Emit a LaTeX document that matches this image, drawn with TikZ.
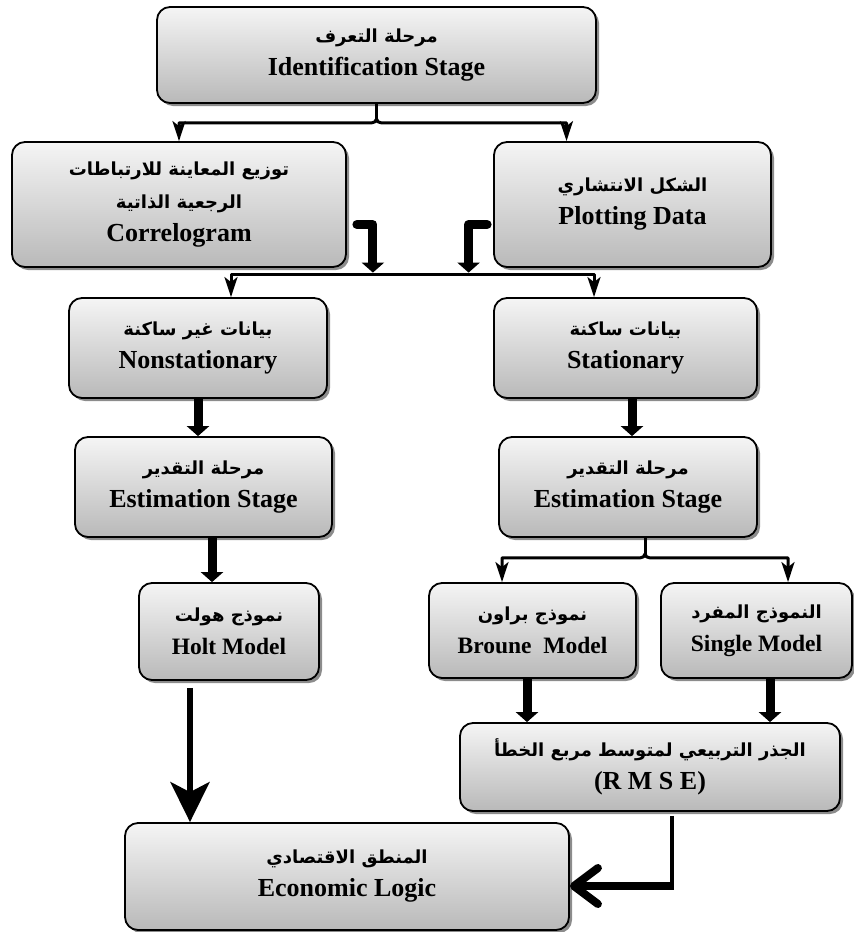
\documentclass[tikz,border=0pt]{standalone}
\usepackage{fontspec}
\setmainfont{Liberation Serif}
\newfontfamily\arabicfont[Script=Arabic]{DejaVu Sans}
\TeXXeTstate=1
\usetikzlibrary{arrows.meta,shadows}
\newcommand{\artxt}[1]{{\arabicfont\fontsize{18}{33}\selectfont\beginR #1\endR}}
\begin{document}
\begin{tikzpicture}[x=1pt,y=-1pt,line join=round,>={Stealth[length=20pt,width=13pt,inset=5pt]},
  box/.style={draw,line width=1.8pt,rounded corners=13pt,top color=gray!8,bottom color=gray!55,
    drop shadow={shadow xshift=3pt,shadow yshift=-3pt,fill=gray!90,opacity=1},
    align=center,inner sep=2pt,font=\fontsize{26}{33}\selectfont\bfseries},
  modelbox/.style={box,font=\fontsize{23.5}{33}\selectfont\bfseries},
  link/.style={line width=3pt},
  fat/.style={line width=9pt,-{Triangle[length=10pt,width=22pt]}}]
\useasboundingbox (0,0) rectangle (854,932);
\node[box,minimum width=439pt,minimum height=96pt] (ident) at (376.5,55) {\artxt{مرحلة التعرف}\\Identification Stage};
\node[box,minimum width=334pt,minimum height=125pt] (correl) at (179,204.5) {\artxt{توزيع المعاينة للارتباطات}\\\artxt{الرجعية الذاتية}\\Correlogram};
\node[box,minimum width=277pt,minimum height=125pt] (plot) at (632.5,204.5) {\artxt{الشكل الانتشاري}\\Plotting Data};
\node[box,minimum width=258pt,minimum height=100pt] (nonst) at (198,348) {\artxt{بيانات غير ساكنة}\\Nonstationary};
\node[box,minimum width=263pt,minimum height=100pt] (stat) at (625.5,348) {\artxt{بيانات ساكنة}\\Stationary};
\node[box,minimum width=257pt,minimum height=100pt] (estL) at (203.5,487) {\artxt{مرحلة التقدير}\\Estimation Stage};
\node[box,minimum width=258pt,minimum height=100pt] (estR) at (628,487) {\artxt{مرحلة التقدير}\\Estimation Stage};
\node[modelbox,minimum width=180pt,minimum height=97pt] (holt) at (229,631.5) {\artxt{نموذج هولت}\\Holt Model};
\node[modelbox,minimum width=207pt,minimum height=95pt] (broune) at (532.5,630.5) {\artxt{نموذج براون}\\Broune~~Model};
\node[modelbox,minimum width=191pt,minimum height=95pt] (single) at (756.5,630.5) {\artxt{النموذج المفرد}\\Single Model};
\node[box,minimum width=380pt,minimum height=88pt] (rmse) at (650,767) {\artxt{الجذر التربيعي لمتوسط مربع الخطأ}\\(R M S E)};
\node[box,minimum width=444pt,minimum height=107pt] (econ) at (347,876.5) {\artxt{المنطق الاقتصادي}\\Economic Logic};

\draw[link] (ident.south) -- ++(0,15) coordinate (jTopUp);
\coordinate (jTop) at ([yshift=-4pt]jTopUp);
\coordinate (plotIn) at ([xshift=-66pt]plot.north);
\draw[link,<->] (correl.north) |- ([xshift=-5pt]jTop) to[out=0,in=-90] (jTopUp) to[out=-90,in=180] ([xshift=5pt]jTop) -| (plotIn);

\coordinate (barL) at ([shift={(33,-23)}]nonst.north);
\coordinate (barR) at ([shift={(-31.5,-23)}]stat.north);
\draw[link,<->] (barL |- nonst.north) -- (barL) -- (barR) -- (barR |- stat.north);
\coordinate (elbL) at ([xshift=26pt]correl.east);
\coordinate (elbR) at ([xshift=-24.5pt]plot.west);
\draw[fat,line cap=round,shorten >=1.5pt] ([shift={(10,20)}]correl.east) -| (elbL |- barL);
\draw[fat,line cap=round,shorten >=1.5pt] ([shift={(-6,20)}]plot.west) -| (elbR |- barL);

\draw[fat] (nonst.south) -- (nonst.south |- estL.north);
\coordinate (statOut) at ([xshift=6.5pt]stat.south);
\draw[fat] (statOut) -- (statOut |- estR.north);

\coordinate (estLOut) at ([xshift=8.5pt]estL.south);
\draw[fat] (estLOut) -- (estLOut |- holt.north);
\draw[link] ([xshift=17pt]estR.south) -- ++(0,16) coordinate (jEstUp);
\coordinate (jEst) at ([yshift=-4pt]jEstUp);
\coordinate (brIn) at ([xshift=-30.5pt]broune.north);
\coordinate (sgIn) at ([xshift=31.5pt]single.north);
\draw[link,<->] (brIn) |- ([xshift=-5pt]jEst) to[out=0,in=-90] (jEstUp) to[out=-90,in=180] ([xshift=5pt]jEst) -| (sgIn);

\coordinate (holtOut) at ([shift={(-39,7)}]holt.south);
\draw[line width=5.5pt,-{Stealth[length=40pt,width=39pt,inset=10pt]}] (holtOut) -- (holtOut |- econ.north);
\coordinate (brOut) at ([xshift=-5.5pt]broune.south);
\draw[fat] (brOut) -- (brOut |- rmse.north);
\coordinate (sgOut) at ([xshift=13.5pt]single.south);
\draw[fat] (sgOut) -- (sgOut |- rmse.north);

\coordinate (rmseOut) at ([shift={(22,4)}]rmse.south);
\coordinate (econIn) at ([yshift=-9.5pt]econ.east);
\draw[line width=4pt,shorten >=-4pt] (rmseOut) -- (rmseOut |- econIn);
\draw[line width=8pt,-{Straight Barb[length=24pt,width=36pt,round]}] (rmseOut |- econIn) -- (econIn);
\end{tikzpicture}
\end{document}
